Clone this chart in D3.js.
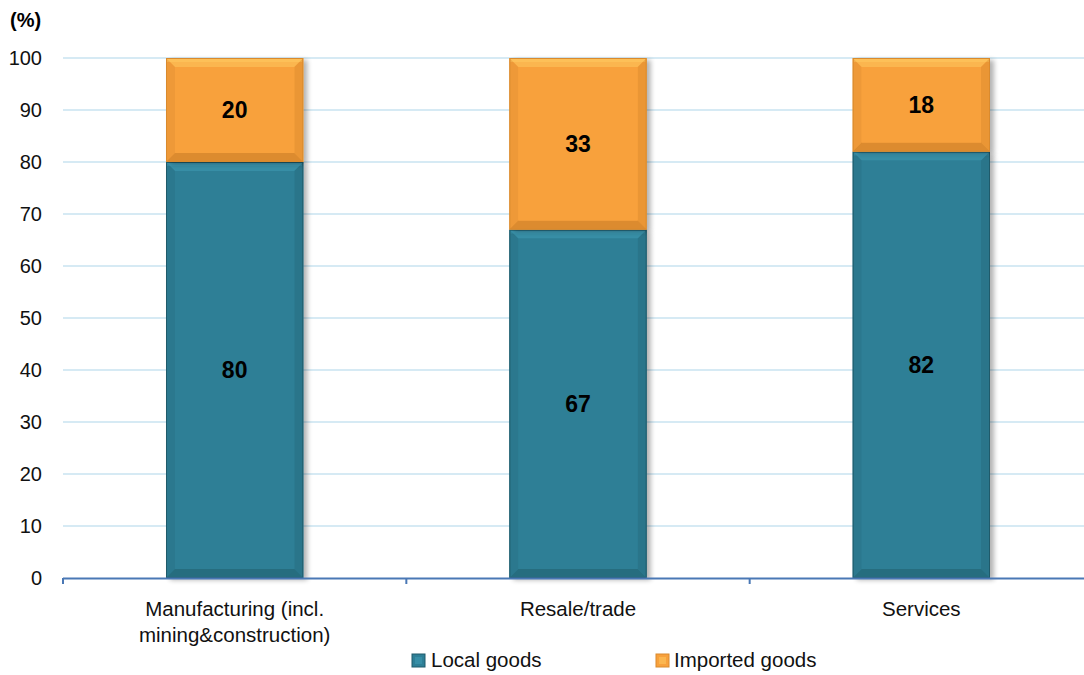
<!DOCTYPE html>
<html><head><meta charset="utf-8">
<script src="https://cdn.jsdelivr.net/npm/d3@7"></script>
<style>body{margin:0;background:#fff;} text{font-family:"Liberation Sans",Arial,sans-serif;}</style>
</head><body><svg id="c" width="1084" height="675"></svg>
<script>
const categories = ["Manufacturing (incl.\nmining&construction)", "Resale/trade", "Services"];
const localGoods = [80, 67, 82];
const importedGoods = [20, 33, 18];
const seriesNames = ["Local goods", "Imported goods"];
const yTicks = [0,10,20,30,40,50,60,70,80,90,100];

const svg = d3.select("#c");
const m = {l:63, r:1093, t:58, b:578};
const x = d3.scaleBand().domain(categories).range([m.l, m.r]).paddingInner(0.6).paddingOuter(0.3);
const y = d3.scaleLinear().domain([0,100]).range([m.b, m.t]);

// gridlines
svg.append("g").selectAll("line").data(yTicks.filter(d=>d>0)).join("line")
  .attr("x1", m.l).attr("x2", 1084).attr("y1", d=>y(d)).attr("y2", d=>y(d))
  .attr("stroke", "#d6eaf4").attr("stroke-width", 2);

// y axis labels
svg.append("g").selectAll("text").data(yTicks).join("text")
  .attr("x", 42).attr("y", d=>y(d)).attr("dy", "0.35em").attr("text-anchor", "end")
  .attr("font-size", 20).attr("fill", "#111").text(d=>d);
svg.append("text").attr("x", 10).attr("y", 27).attr("font-size", 20).attr("font-weight", "bold").text("(%)");

const defs = svg.append("defs");
const f = defs.append("filter").attr("id","sh").attr("x","-10%").attr("y","-10%").attr("width","130%").attr("height","130%");
f.append("feGaussianBlur").attr("in","SourceAlpha").attr("stdDeviation",2.5);
f.append("feOffset").attr("dx",4).attr("dy",2).attr("result","ob");
f.append("feComponentTransfer").append("feFuncA").attr("type","linear").attr("slope",0.3);
const fm = f.append("feMerge"); fm.append("feMergeNode"); fm.append("feMergeNode").attr("in","SourceGraphic");

const stack = [
  {name: seriesNames[0], vals: localGoods, base: categories.map(()=>0), fill:"#2e7f96", light:"#3d97b0", dark:"#22606f", edge:"#1f5a6a"},
  {name: seriesNames[1], vals: importedGoods, base: localGoods, fill:"#f8a13c", light:"#fdc45c", dark:"#c97d26", edge:"#d98a2e"}
];

function bevelBar(g, x0, y0, w, h, s) {
  const b = 9;
  g.append("rect").attr("x", x0).attr("y", y0).attr("width", w).attr("height", h).attr("fill", s.fill).attr("filter","url(#sh)");
  g.append("polygon").attr("points", [[x0,y0],[x0+w,y0],[x0+w-b,y0+b],[x0+b,y0+b]].join(" ")).attr("fill", s.light).attr("opacity",0.6);
  g.append("rect").attr("x", x0+1).attr("y", y0+1).attr("width", w-2).attr("height", 3).attr("fill", s.light).attr("opacity",0.7);
  g.append("polygon").attr("points", [[x0,y0+h],[x0+w,y0+h],[x0+w-b,y0+h-b],[x0+b,y0+h-b]].join(" ")).attr("fill", s.dark).attr("opacity",0.6);
  g.append("polygon").attr("points", [[x0,y0],[x0+b,y0+b],[x0+b,y0+h-b],[x0,y0+h]].join(" ")).attr("fill", s.dark).attr("opacity",0.2);
  g.append("polygon").attr("points", [[x0+w,y0],[x0+w-b,y0+b],[x0+w-b,y0+h-b],[x0+w,y0+h]].join(" ")).attr("fill", s.dark).attr("opacity",0.3);
  g.append("rect").attr("x", x0+b).attr("y", y0+b).attr("width", w-2*b).attr("height", Math.max(0,h-2*b)).attr("fill", s.fill);
  g.append("rect").attr("x", x0+0.5).attr("y", y0+0.5).attr("width", w-1).attr("height", h-1).attr("fill","none").attr("stroke", s.edge).attr("stroke-width",1);
}

const bars = svg.append("g");
stack.forEach(s => {
  categories.forEach((c,i) => {
    const y1 = y(s.base[i] + s.vals[i]), y0 = y(s.base[i]);
    bevelBar(bars, x(c), y1, x.bandwidth(), y0 - y1, s);
  });
});
stack.forEach(s => {
  categories.forEach((c,i) => {
    const ym = y(s.base[i] + s.vals[i]/2);
    bars.append("text").attr("x", x(c)+x.bandwidth()/2).attr("y", ym).attr("dy","0.35em")
      .attr("text-anchor","middle").attr("font-size",23).attr("font-weight","bold").attr("fill","#000")
      .style("font-family","'Liberation Sans Narrow','Arial Narrow',sans-serif").text(s.vals[i]);
  });
});

// x axis
const step = x.step();
svg.append("line").attr("x1", m.l).attr("x2", 1084).attr("y1", m.b+0.5).attr("y2", m.b+0.5).attr("stroke","#4a78b5").attr("stroke-width",2);
const bounds = categories.map((c,i)=> x(c) - x.paddingInner()*step/2);
svg.append("g").selectAll("line").data(bounds).join("line")
  .attr("x1", d=>d).attr("x2", d=>d).attr("y1", m.b).attr("y2", m.b+6).attr("stroke","#4a78b5").attr("stroke-width",2);

// category labels
categories.forEach(c => {
  const lines = c.split("\n");
  const t = svg.append("text").attr("x", x(c)+x.bandwidth()/2).attr("y", 616).attr("text-anchor","middle").attr("font-size",20.5).attr("fill","#111");
  lines.forEach((l,k)=> t.append("tspan").attr("x", x(c)+x.bandwidth()/2).attr("dy", k===0?0:"1.25em").text(l));
});

// legend
const leg = [{s:stack[0], x:412, tx:431}, {s:stack[1], x:656, tx:674}];
leg.forEach(L => {
  svg.append("rect").attr("x", L.x).attr("y", 654).attr("width", 13).attr("height", 13).attr("fill", L.s.fill).attr("stroke", L.s.edge);
  svg.append("rect").attr("x", L.x+3).attr("y", 657).attr("width", 7).attr("height", 7).attr("fill", L.s.light).attr("opacity",0.6);
  svg.append("text").attr("x", L.tx).attr("y", 660).attr("dy","0.35em").attr("font-size",20.5).attr("fill","#111").text(L.s.name);
});
</script></body></html>
